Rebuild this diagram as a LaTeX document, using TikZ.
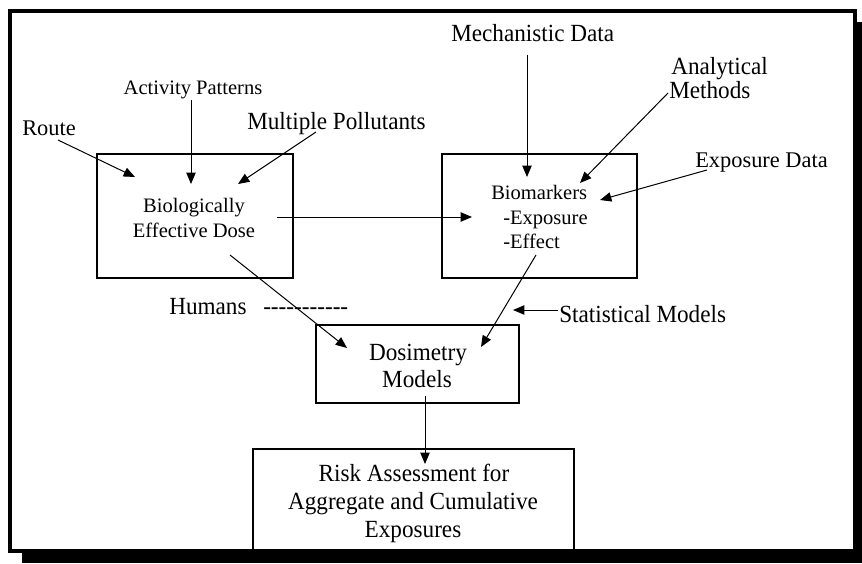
\documentclass[tikz,border=0pt]{standalone}
\usepackage{fontspec}
\setmainfont{Liberation Serif}
\newfontfamily\tallserif[FakeStretch=0.94]{Liberation Serif}
\usetikzlibrary{arrows.meta}
\newcommand\hy{\mbox{-}}
\begin{document}
\begin{tikzpicture}[x=0.75pt,y=-0.75pt,
  big/.style={font=\tallserif\fontsize{18.5}{21}\selectfont, inner sep=0pt},
  mid/.style={font=\fontsize{16.8}{20}\selectfont, inner sep=0pt},
  small/.style={font=\fontsize{15.4}{18}\selectfont, inner sep=0pt},
  box/.style={draw, line width=0.8pt, inner sep=0pt},
  arr/.style={-{Triangle[length=8.5pt,width=7pt]}, line width=0.75pt}]
\useasboundingbox (0,0) rectangle (862,563);
% frame with shadow
\fill[black] (22,22) rectangle (862,563);
\draw[line width=3pt, fill=white] (10,11) rectangle (855,551);
% boxes
\node[box, minimum width=147pt, minimum height=93pt] (bed) at (195,216) {};
\node[box, minimum width=146.25pt, minimum height=93pt] (bio) at (539.5,216) {};
\node[box, minimum width=152.25pt, minimum height=58.5pt] (dos) at (417.5,364) {};
\node[box, minimum width=240.75pt, minimum height=76.5pt] (risk) at (413.5,500) {};
% texts
\node[mid, anchor=base west] (route) at (22,135) {Route};
\node[small, anchor=base] (act) at (193,95) {Activity Patterns};
\node[big, anchor=base west] (mult) at (247,130) {Multiple Pollutants};
\node[small, anchor=base] (bed1) at (194,212) {Biologically};
\node[small, anchor=base] (bed2) at (194,237) {Effective Dose};
\node[big, anchor=base west] (mech) at (451,42) {Mechanistic Data};
\node[big, anchor=base west] (ana1) at (671,75) {Analytical};
\node[big, anchor=base west] (ana2) at (669,99) {Methods};
\node[mid, anchor=base west] (expd) at (695,167) {Exposure Data};
\node[small, anchor=base west] (bio1) at (491,199) {Biomarkers};
\node[small, anchor=base west] (bio2) at (503,224) {-Exposure};
\node[small, anchor=base west] (bio3) at (503,248) {-Effect};
\node[big, anchor=base west] (hum) at (169,314) {Humans};
\node[big, anchor=base west] (dashes) at (263,314) {\hy\hy\hy\hy\hy\hy\hy\hy\hy\hy\hy};
\node[big, anchor=base west] (stat) at (559,322) {Statistical Models};
\node[big, anchor=base] (dos1) at (418,360) {Dosimetry};
\node[big, anchor=base] (dos2) at (417,387) {Models};
\node[big, anchor=base] (risk1) at (414,481) {Risk Assessment for};
\node[big, anchor=base] (risk2) at (413,509) {Aggregate and Cumulative};
\node[big, anchor=base] (risk3) at (413,537) {Exposures};
% connector end points
\coordinate (routeS) at (58,140);   \coordinate (routeE) at (135,177);
\coordinate (actS) at (191,100);    \coordinate (actE) at (191,184);
\coordinate (multS) at (316,132);   \coordinate (multE) at (238,184);
\coordinate (bedR) at (277,217);    \coordinate (bioL) at (472,217);
\coordinate (bedB) at (230,255);    \coordinate (dosL) at (347,348);
\coordinate (mechS) at (527,55);    \coordinate (mechE) at (527,177);
\coordinate (anaS) at (668,93);     \coordinate (anaE) at (580,183);
\coordinate (expS) at (707,170);    \coordinate (expE) at (600,200);
\coordinate (bioB) at (536,255);    \coordinate (dosR) at (481,347);
\coordinate (statS) at (558,310);   \coordinate (statE) at (513,310);
\coordinate (dosB) at (425,396);    \coordinate (riskT) at (425,464);
% connectors
\draw[arr] (routeS) -- (routeE);
\draw[arr] (actS) -- (actE);
\draw[arr] (multS) -- (multE);
\draw[arr] (bedR) -- (bioL);
\draw[arr] (bedB) -- (dosL);
\draw[arr] (mechS) -- (mechE);
\draw[arr] (anaS) -- (anaE);
\draw[arr] (expS) -- (expE);
\draw[arr] (bioB) -- (dosR);
\draw[arr] (statS) -- (statE);
\draw[arr] (dosB) -- (riskT);
\end{tikzpicture}
\end{document}
